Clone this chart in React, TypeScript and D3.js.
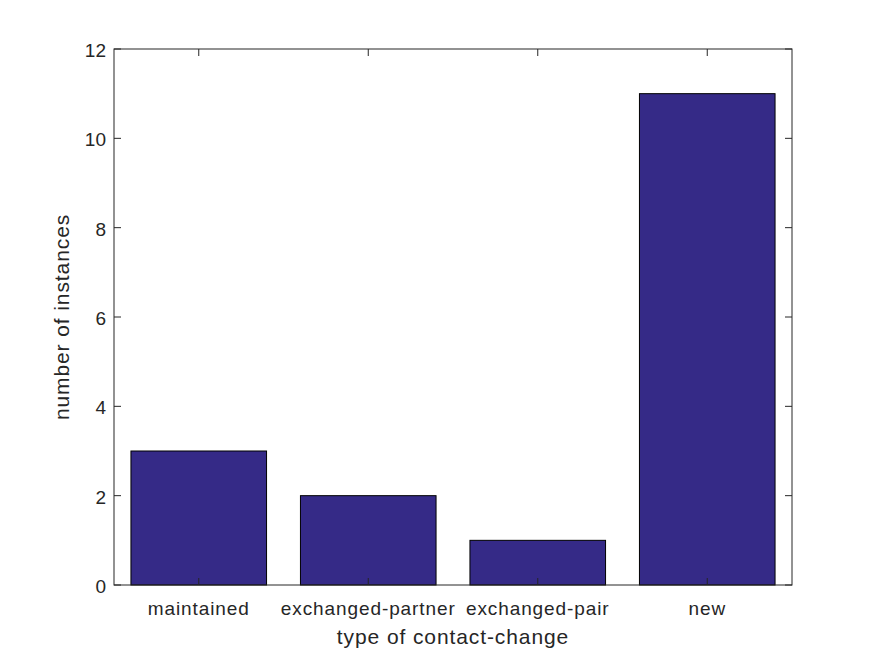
import React from "react";
import * as d3 from "d3";

const categories = ["maintained", "exchanged-partner", "exchanged-pair", "new"];
const counts = [3, 2, 1, 11];
const yTicks = [0, 2, 4, 6, 8, 10, 12];

const W = 875, H = 656;
const L = 114, R = 792, T = 49, B = 585;

export default function App() {
  const x = d3.scaleBand().domain(categories).range([L, R]).paddingInner(0.2).paddingOuter(0.1);
  const xc = d3.scalePoint().domain(categories).range([L, R]).padding(0.5);
  const y = d3.scaleLinear().domain([0, 12]).range([B, T]);
  const tl = 7;
  const font = "'Liberation Sans', Arial, Helvetica, sans-serif";
  const ls = 0.9;
  return (
    <svg width={W} height={H} style={{ position: "absolute", left: 0, top: 0, background: "#fff" }} fontFamily={font}>
      <rect x={0} y={0} width={W} height={H} fill="#fff" />
      {categories.map((c, i) => (
        <rect key={c} x={x(c)!} y={y(counts[i])} width={x.bandwidth()} height={y(0) - y(counts[i])}
          fill="#352A87" stroke="#000" strokeWidth={1} />
      ))}
      <rect x={L} y={T} width={R - L} height={B - T} fill="none" stroke="#262626" strokeWidth={1} />
      {yTicks.map(t => (
        <g key={t}>
          <line x1={L} x2={L + tl} y1={y(t)} y2={y(t)} stroke="#262626" />
          <line x1={R} x2={R - tl} y1={y(t)} y2={y(t)} stroke="#262626" />
          <text x={L - 8} y={y(t) + 8} textAnchor="end" fontSize={19} fill="#262626">{t}</text>
        </g>
      ))}
      {categories.map(c => (
        <g key={c}>
          <line x1={xc(c)!} x2={xc(c)!} y1={B} y2={B - tl} stroke="#262626" />
          <line x1={xc(c)!} x2={xc(c)!} y1={T} y2={T + tl} stroke="#262626" />
          <text x={xc(c)!} y={615} textAnchor="middle" fontSize={19} letterSpacing={ls} fill="#262626">{c}</text>
        </g>
      ))}
      <text x={(L + R) / 2} y={644} textAnchor="middle" fontSize={21} letterSpacing={ls} fill="#262626">type of contact-change</text>
      <text transform={`translate(69,${(T + B) / 2}) rotate(-90)`} textAnchor="middle" fontSize={21} letterSpacing={ls} fill="#262626">number of instances</text>
    </svg>
  );
}
